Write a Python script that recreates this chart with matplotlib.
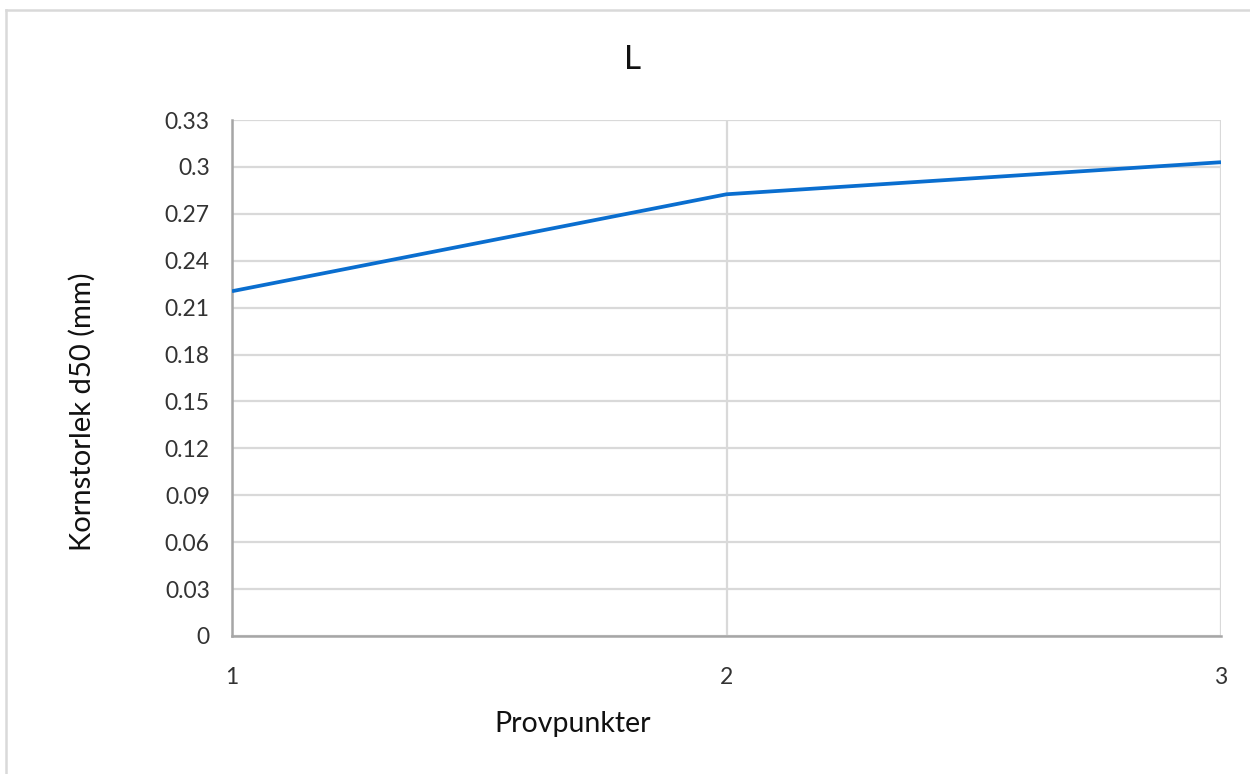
import matplotlib
matplotlib.use("Agg")
import matplotlib.pyplot as plt
from matplotlib.lines import Line2D
from matplotlib.ticker import FuncFormatter, MultipleLocator

plt.rcParams['font.family'] = ['Lato', 'DejaVu Sans']

# Data
provpunkter = [1, 2, 3]
d50_mm = [0.2205, 0.2825, 0.303]

title = "L"
x_label = "Provpunkter"
y_label = "Kornstorlek d50 (mm)"

W, H = 1250, 774
fig = plt.figure(figsize=(W / 100, H / 100), dpi=100)
fig.patch.set_facecolor("white")

ax = fig.add_axes([232 / W, 1 - 636 / H, (1221 - 232) / W, (636 - 120) / H])

grid_col = "#D9D9D9"
axis_col = "#A6A6A6"

ax.plot(provpunkter, d50_mm, color="#0A6ECF", lw=2.7, solid_capstyle="butt", zorder=3)

ax.set_xlim(1, 3)
ax.set_ylim(0, 0.33)
ax.xaxis.set_major_locator(MultipleLocator(1))
ax.yaxis.set_major_locator(MultipleLocator(0.03))
ax.yaxis.set_major_formatter(FuncFormatter(lambda v, p: f"{round(v, 2):g}"))
ax.xaxis.set_major_formatter(FuncFormatter(lambda v, p: f"{int(round(v))}"))

ax.grid(True, color=grid_col, lw=1.6, zorder=0)
ax.set_axisbelow(True)

for s in ("top", "right"):
    ax.spines[s].set_visible(False)
for s in ("left", "bottom"):
    ax.spines[s].set_color(axis_col)
    ax.spines[s].set_linewidth(1.8)
    ax.spines[s].set_zorder(2)

ax.tick_params(axis="both", length=0, labelsize=16.5, labelcolor="#333333")
ax.tick_params(axis="y", pad=16)
ax.tick_params(axis="x", pad=22)

fig.text(633 / W, 1 - 60 / H, title, ha="center", va="center", fontsize=24, color="#111111")
fig.text(573 / W, 1 - 724 / H, x_label, ha="center", va="center", fontsize=20.5, color="#111111")
fig.text(82 / W, 1 - 412 / H, y_label, ha="center", va="center", rotation=90,
         fontsize=21, color="#111111")

# Outer chart frame
fig.add_artist(Line2D([6 / W, 6 / W], [0, 1 - 10 / H], transform=fig.transFigure,
                      color=grid_col, lw=1.8))
fig.add_artist(Line2D([6 / W, 1], [1 - 10 / H, 1 - 10 / H], transform=fig.transFigure,
                      color=grid_col, lw=1.8))

fig.savefig("out.png", dpi=100, facecolor="white")
